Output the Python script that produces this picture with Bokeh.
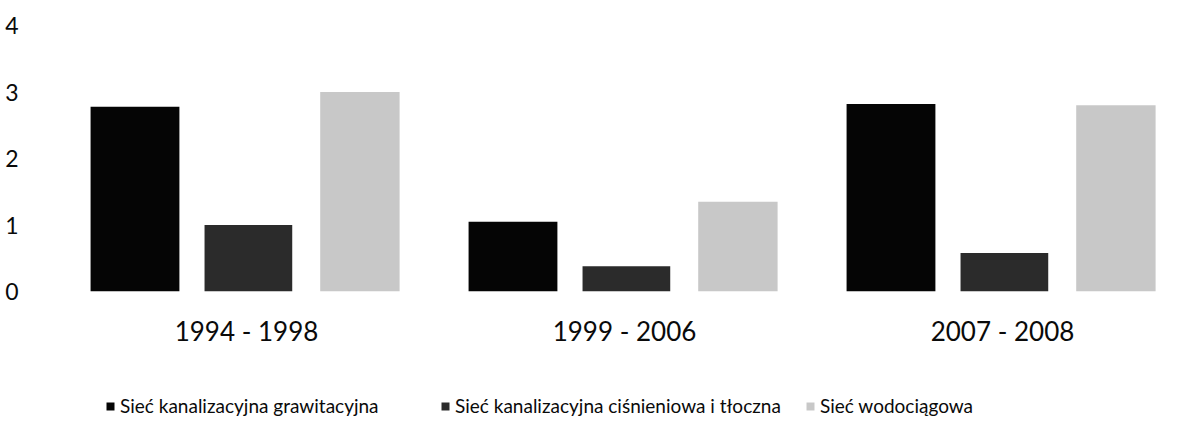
from bokeh.plotting import figure
from bokeh.models import ColumnDataSource, FactorRange, Legend, LegendItem
from bokeh.layouts import column
from bokeh.transform import dodge
from bokeh.embed import file_html
from bokeh.resources import INLINE

periods = ["1994 - 1998", "1999 - 2006", "2007 - 2008"]
grawitacyjna = [2.78, 1.05, 2.82]
cisnieniowa = [1.0, 0.38, 0.58]
wodociagowa = [3.0, 1.35, 2.8]
series_names = ["Sieć kanalizacyjna grawitacyjna",
                "Sieć kanalizacyjna ciśnieniowa i tłoczna",
                "Sieć wodociągowa"]
colors = ["#050505", "#2b2b2b", "#c8c8c8"]
y_ticks = [0, 1, 2, 3, 4]

src = ColumnDataSource(dict(periods=periods, g=grawitacyjna, c=cisnieniowa, w=wodociagowa))

FONT = "Lato"
p = figure(x_range=FactorRange(*periods, range_padding=0), y_range=(0, 4),
           width=1192, height=360, output_backend="svg", toolbar_location=None,
           min_border_left=57, min_border_right=1, min_border_top=25, min_border_bottom=69)
p.outline_line_color = None
p.xgrid.grid_line_color = None
p.ygrid.grid_line_color = None

p.vbar(x=dodge("periods", -0.295, range=p.x_range), top="g", width=0.235, source=src,
       fill_color=colors[0], line_color=None)
p.vbar(x=dodge("periods", 0.005, range=p.x_range), top="c", width=0.232, source=src,
       fill_color=colors[1], line_color=None)
p.vbar(x=dodge("periods", 0.3, range=p.x_range), top="w", width=0.21, source=src,
       fill_color=colors[2], line_color=None)

p.yaxis.ticker = y_ticks
p.yaxis.axis_line_color = None
p.yaxis.major_tick_line_color = None
p.yaxis.minor_tick_line_color = None
p.yaxis.major_label_standoff = 33
p.yaxis.major_label_text_font = FONT
p.yaxis.major_label_text_font_size = "23px"
p.yaxis.major_label_text_color = "#0a0a0a"

p.xaxis.axis_line_color = None
p.xaxis.major_tick_line_color = None
p.xaxis.minor_tick_line_color = None
p.xaxis.major_label_standoff = 17
p.xaxis.major_label_text_font = FONT
p.xaxis.major_label_text_font_size = "26px"
p.xaxis.major_label_text_color = "#0a0a0a"

# legend strip below the chart
lg = figure(width=1192, height=68, x_range=(0, 1), y_range=(0, 1),
            output_backend="svg", toolbar_location=None,
            x_axis_location=None, y_axis_location=None,
            min_border_left=57, min_border_right=1, min_border_top=0, min_border_bottom=0)
lg.outline_line_color = None
lg.xgrid.grid_line_color = None
lg.ygrid.grid_line_color = None

legend_x = [48, 383, 748]
for name, col, lx in zip(series_names, colors, legend_x):
    r = lg.vbar(x=[0.5], top=[0], width=0.1, fill_color=col, line_color=None)
    legend = Legend(items=[LegendItem(label=name, renderers=[r])],
                    orientation="horizontal", location=(lx, 11), padding=0,
                    margin=0, border_line_color=None, background_fill_alpha=0,
                    glyph_width=10, glyph_height=10, label_standoff=5,
                    label_text_font=FONT, label_text_font_size="19px",
                    label_text_color="#0a0a0a")
    lg.add_layout(legend, "center")

layout = column(p, lg, spacing=0)
open("out.html", "w").write(file_html(layout, INLINE))
